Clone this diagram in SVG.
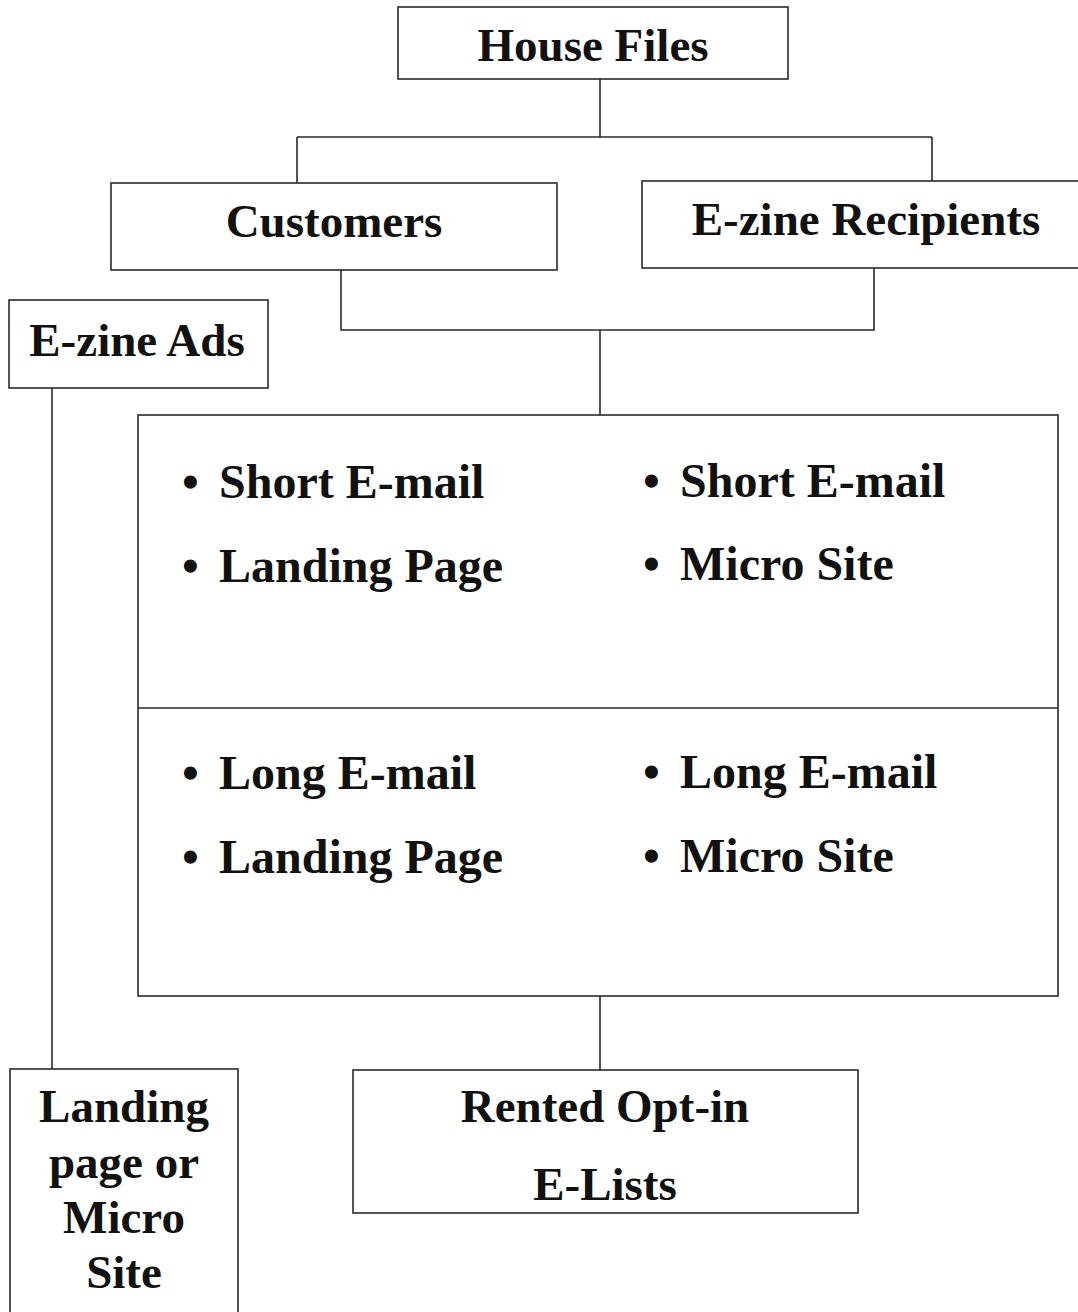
<svg xmlns="http://www.w3.org/2000/svg" width="1078" height="1312" viewBox="0 0 1078 1312">
  <style>
    .box { fill: #ffffff; stroke: #2a2a2a; stroke-width: 1.6; }
    .wire { fill: none; stroke: #2a2a2a; stroke-width: 1.6; }
    .lbl { font-family: "Liberation Serif", "Times New Roman", serif; font-weight: bold; font-size: 47px; fill: #111111; }
    .item { font-size: 48px; }
    .mid { text-anchor: middle; }
  </style>
  <rect width="1078" height="1312" fill="#ffffff"/>

  <!-- connectors -->
  <g id="connectors">
    <path class="wire" d="M600 79 V137 M297 137 H932 M297 137 V183 M932 137 V181"/>
    <path class="wire" d="M341 270 V330 H874 V268"/>
    <path class="wire" d="M600 330 V1070"/>
    <path class="wire" d="M52 388 V1069"/>
  </g>

  <!-- top node -->
  <g id="house-files">
    <rect class="box" x="398" y="7" width="390" height="72"/>
    <text class="lbl mid" x="593" y="61">House Files</text>
  </g>

  <g id="customers">
    <rect class="box" x="111" y="183" width="446" height="87"/>
    <text class="lbl mid" x="334" y="237" font-size="48">Customers</text>
  </g>

  <g id="ezine-recipients">
    <rect class="box" x="642" y="181" width="440" height="87"/>
    <text class="lbl mid" x="866" y="235">E-zine Recipients</text>
  </g>

  <g id="ezine-ads">
    <rect class="box" x="9" y="300" width="259" height="88"/>
    <text class="lbl mid" x="137" y="356">E-zine Ads</text>
  </g>

  <!-- 2x2 offer grid -->
  <g id="offer-grid">
    <rect class="box" x="138" y="415" width="920" height="581" fill="none"/>
    <path class="wire" d="M138 708 H1058"/>
    <g id="cell-short-landing">
      <text class="lbl item" x="182" y="498">•</text>
      <text class="lbl item" x="219" y="498">Short E-mail</text>
      <text class="lbl item" x="182" y="582">•</text>
      <text class="lbl item" x="219" y="582">Landing Page</text>
    </g>
    <g id="cell-short-micro">
      <text class="lbl item" x="643" y="497">•</text>
      <text class="lbl item" x="680" y="497">Short E-mail</text>
      <text class="lbl item" x="643" y="580">•</text>
      <text class="lbl item" x="680" y="580">Micro Site</text>
    </g>
    <g id="cell-long-landing">
      <text class="lbl item" x="182" y="789">•</text>
      <text class="lbl item" x="219" y="789">Long E-mail</text>
      <text class="lbl item" x="182" y="873">•</text>
      <text class="lbl item" x="219" y="873">Landing Page</text>
    </g>
    <g id="cell-long-micro">
      <text class="lbl item" x="643" y="788">•</text>
      <text class="lbl item" x="680" y="788">Long E-mail</text>
      <text class="lbl item" x="643" y="872">•</text>
      <text class="lbl item" x="680" y="872">Micro Site</text>
    </g>
  </g>

  <g id="landing-or-micro">
    <rect class="box" x="10" y="1069" width="228" height="250"/>
    <text class="lbl mid" x="124" y="1122">Landing</text>
    <text class="lbl mid" x="124" y="1178">page or</text>
    <text class="lbl mid" x="124" y="1233">Micro</text>
    <text class="lbl mid" x="124" y="1288">Site</text>
  </g>

  <g id="rented-lists">
    <rect class="box" x="353" y="1070" width="505" height="143"/>
    <text class="lbl mid" x="605" y="1122">Rented Opt-in</text>
    <text class="lbl mid" x="605" y="1200">E-Lists</text>
  </g>
</svg>
